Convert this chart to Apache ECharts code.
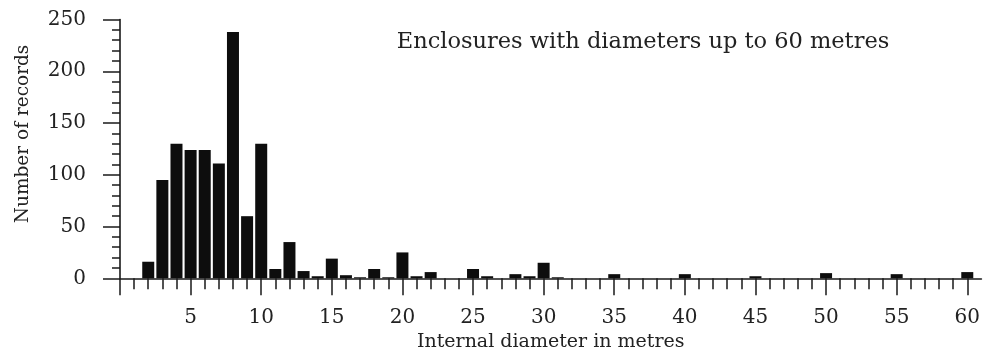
<!DOCTYPE html>
<html>
<head>
<meta charset="utf-8">
<script src="https://cdn.jsdelivr.net/npm/echarts@6/dist/echarts.min.js"></script>
<style>
html,body{margin:0;padding:0;background:#fff;}
#c{width:983px;height:360px;}
</style>
</head>
<body>
<div id="c"></div>
<script>
const diameters = [2,3,4,5,6,7,8,9,10,11,12,13,14,15,16,17,18,19,20,21,22,25,26,28,29,30,31,35,40,45,50,55,60];
const counts    = [16,95,130,124,124,111,238,60,130,9,35,7,2,19,3,1,9,1,25,2,6,9,2,4,2,15,1,4,4,2,5,4,6];
const xLabelValues = [5,10,15,20,25,30,35,40,45,50,55,60];
const xMajorTicks = [0,5,10,15,20,25,30,35,40,45,50,55,60];
const yTicks = [0,50,100,150,200,250];
const titleText = 'Enclosures with diameters up to 60 metres';
const xName = 'Internal diameter in metres';
const yName = 'Number of records';

const xMinorTicks = [];
for (let i = 0; i <= 60; i++) xMinorTicks.push(i);

const FONT = 'DejaVu Serif';
const INK = '#1a1a1a';
const TXT = '#222';

const chart = echarts.init(document.getElementById('c'), null, {renderer: 'canvas'});
chart.setOption({
  animation: false,
  backgroundColor: '#fff',
  title: {
    text: titleText,
    left: 638, top: 26, textAlign: 'center',
    textStyle: {fontFamily: FONT, fontSize: 22.5, fontWeight: 'normal', color: TXT}
  },
  grid: {left: 120, right: 1, top: 19.5, bottom: 81.7, containLabel: false},
  xAxis: [{
    type: 'value', min: 0, max: 61, position: 'bottom',
    name: xName, nameLocation: 'middle', nameGap: 51,
    nameTextStyle: {fontFamily: FONT, fontSize: 19, color: TXT},
    axisLine: {show: true, lineStyle: {color: INK, width: 1.6}},
    axisTick: {show: true, customValues: xMinorTicks, length: 11, lineStyle: {color: INK, width: 1.5}},
    axisLabel: {show: true, customValues: xLabelValues, margin: 29, fontFamily: FONT, fontSize: 20, color: TXT},
    splitLine: {show: false}
  }, {
    type: 'value', min: 0, max: 61, position: 'bottom',
    axisLine: {show: false},
    axisTick: {show: true, customValues: xMajorTicks, length: 17, lineStyle: {color: INK, width: 1.5}},
    axisLabel: {show: false},
    splitLine: {show: false}
  }],
  yAxis: {
    type: 'value', min: 0, max: 250, interval: 50,
    name: yName, nameLocation: 'middle', nameGap: 87, nameRotate: 90,
    nameTextStyle: {fontFamily: FONT, fontSize: 18.5, color: TXT, padding: [0, 0, 0, 30]},
    axisLine: {show: true, lineStyle: {color: INK, width: 1.6}},
    axisTick: {show: true, length: 17, lineStyle: {color: INK, width: 1.5}},
    minorTick: {show: true, splitNumber: 5, length: 8, lineStyle: {color: INK, width: 1.5}},
    axisLabel: {margin: 34, fontFamily: FONT, fontSize: 20, color: TXT},
    splitLine: {show: false}
  },
  series: [{
    type: 'bar',
    xAxisIndex: 0,
    barWidth: 12,
    itemStyle: {color: '#0d0d0d'},
    data: diameters.map((d, i) => [d, counts[i]])
  }]
});
</script>
</body>
</html>
